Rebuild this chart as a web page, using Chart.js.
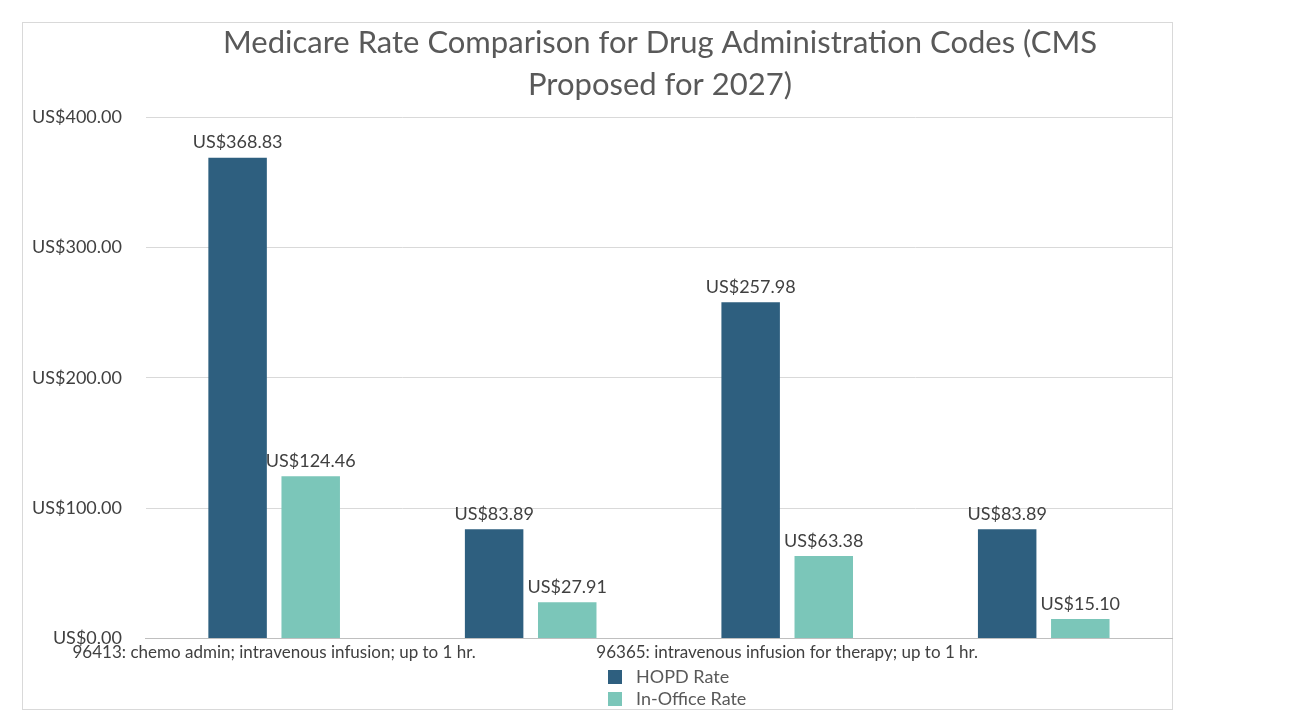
<!DOCTYPE html>
<html><head><meta charset="utf-8">
<script src="https://cdn.jsdelivr.net/npm/chart.js@4/dist/chart.umd.min.js"></script>
<style>html,body{margin:0;padding:0;background:#fff}#w{width:1294px;height:713px}</style>
</head><body><div id="w"><canvas id="c"></canvas></div>
<script>
const categories = ["96413: chemo admin; intravenous infusion; up to 1 hr.", "", "96365: intravenous infusion for therapy; up to 1 hr.", ""];
const seriesNames = ["HOPD Rate", "In-Office Rate"];
const hopd = [368.83, 83.89, 257.98, 83.89];
const office = [124.46, 27.91, 63.38, 15.10];
const titleLines = ["Medicare Rate Comparison for Drug Administration Codes (CMS", "Proposed for 2027)"];
const colors = ["#2E5F7F", "#7BC6B9"];
const fmt = v => "US$" + v.toFixed(2);
const FONT = "Lato, 'Open Sans', sans-serif";

const deco = {
  id: 'deco',
  beforeDraw(ch) {
    const c = ch.ctx; c.save();
    c.fillStyle = '#fff'; c.fillRect(0, 0, ch.width, ch.height);
    c.strokeStyle = '#d9d9d9'; c.lineWidth = 1;
    c.strokeRect(22.5, 22.5, 1150, 687);
    c.restore();
  },
  afterDatasetsDraw(ch) {
    const c = ch.ctx; c.save();
    c.font = '31px ' + FONT; c.fillStyle = '#595959';
    c.textAlign = 'center'; c.textBaseline = 'middle';
    titleLines.forEach((t, i) => c.fillText(t, 660, 43 + i * 42));
    c.font = '18px ' + FONT; c.fillStyle = '#404040';
    c.textBaseline = 'bottom';
    ch.data.datasets.forEach((ds, i) => {
      ch.getDatasetMeta(i).data.forEach((b, j) => c.fillText(fmt(ds.data[j]), b.x, b.y - 6));
    });
    c.textAlign = 'left'; c.textBaseline = 'middle';
    ch.data.datasets.forEach((ds, i) => {
      const y = 677 + i * 22;
      c.fillStyle = ds.backgroundColor; c.fillRect(608, y - 7, 14, 14);
      c.fillStyle = '#595959'; c.fillText(ds.label, 636, y);
    });
    c.restore();
  }
};

new Chart(document.getElementById('c'), {
  type: 'bar',
  data: {
    labels: categories,
    datasets: [
      { label: seriesNames[0], data: hopd, backgroundColor: colors[0] },
      { label: seriesNames[1], data: office, backgroundColor: colors[1] }
    ]
  },
  options: {
    responsive: true, maintainAspectRatio: false, animation: false,
    layout: { padding: { left: 8, right: 122, top: 117, bottom: 46 } },
    categoryPercentage: 0.57, barPercentage: 0.8,
    plugins: { legend: { display: false }, tooltip: { enabled: false }, title: { display: false } },
    scales: {
      x: {
        grid: { display: false, drawTicks: false },
        border: { color: '#bfbfbf' },
        ticks: { color: '#404040', font: { family: FONT, size: 17 }, autoSkip: false, maxRotation: 0, padding: 4 }
      },
      y: {
        min: 0, max: 400,
        grid: { color: '#d9d9d9', drawTicks: false },
        border: { display: false },
        ticks: { stepSize: 100, callback: v => fmt(v), color: '#404040', font: { family: FONT, size: 18 }, padding: 24 }
      }
    }
  },
  plugins: [deco]
});
</script></body></html>
